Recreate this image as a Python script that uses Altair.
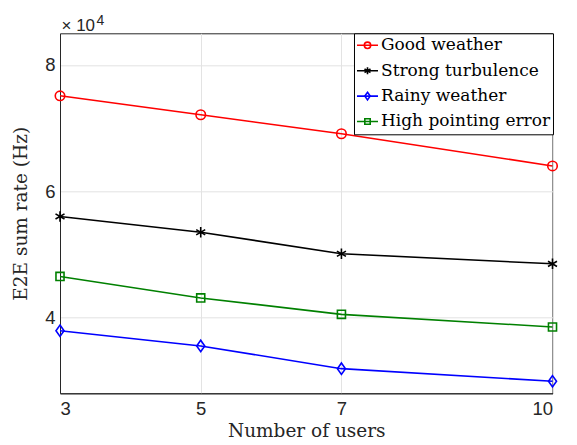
import altair as alt
import pandas as pd

users = [3, 5, 7, 10]
series_names = ["Good weather", "Strong turbulence", "Rainy weather", "High pointing error"]
good_weather = [75100, 72100, 69100, 64000]
strong_turbulence = [56000, 53500, 50100, 48500]
rainy_weather = [37900, 35500, 31900, 29900]
high_pointing = [46500, 43100, 40500, 38500]
x_ticks = [3, 5, 7, 10]
y_ticks = [40000, 60000, 80000]
multiplier = ["× 10"]
exponent = ["4"]

colors = ["#FF0000", "#000000", "#0000FF", "#008000"]
asterisk = "M0,-1.1L0,1.1M-0.95,-0.55L0.95,0.55M-0.95,0.55L0.95,-0.55"
diamond = "M0,-1.2L0.85,0L0,1.2L-0.85,0Z"
square = "M-0.85,-0.85H0.85V0.85H-0.85Z"
shapes = ["circle", asterisk, diamond, square]

# marker keys differ from line keys only so the two legends stay separate
marker_names = [n + " " for n in series_names]

rows = []
for name, mname, vals in zip(series_names, marker_names,
                             [good_weather, strong_turbulence, rainy_weather, high_pointing]):
    for u, v in zip(users, vals):
        rows.append({"users": u, "rate": v, "series": name, "marker": mname})
df = pd.DataFrame(rows)

W, H = 492.5, 360
LX, LY = 294, 0
SERIF = "DejaVu Serif"

xenc = alt.X("users:Q", scale=alt.Scale(domain=[3, 10], nice=False, zero=False),
             axis=alt.Axis(values=x_ticks, title="Number of users", format="d",
                           labelPadding=6, titlePadding=4))
yenc = alt.Y("rate:Q", scale=alt.Scale(domain=[28000, 85000], nice=False, zero=False),
             axis=alt.Axis(values=y_ticks, title="E2E sum rate (Hz)",
                           labelExpr="format(datum.value / 10000, 'd')",
                           labelPadding=5, titlePadding=14))

line_legend = alt.Legend(orient="none", legendX=LX, legendY=LY, title=None,
                         symbolType="stroke", symbolSize=441, symbolStrokeWidth=1.6,
                         labelFont=SERIF, labelFontSize=17, labelColor="#000000",
                         labelOffset=2, padding=2, rowPadding=5.4, clipHeight=20,
                         strokeColor="#000000", fillColor="#FFFFFF", zindex=1, labelLimit=400)

shape_legend = alt.Legend(orient="none", legendX=LX, legendY=LY, title=None,
                          symbolSize=40, symbolStrokeWidth=1.6, symbolFillColor="transparent",
                          symbolOffset=3, labelExpr="''",
                          labelFont=SERIF, labelFontSize=17,
                          labelOffset=2, padding=2, rowPadding=5.4, clipHeight=20, zindex=2)

lines = alt.Chart(df).mark_line(strokeWidth=1.6).encode(
    x=xenc, y=yenc,
    color=alt.Color("series:N", scale=alt.Scale(domain=series_names, range=colors),
                    legend=line_legend, sort=series_names),
    order="users:Q",
)

points = alt.Chart(df).mark_point(filled=False, strokeWidth=1.6, size=90, opacity=1).encode(
    x=xenc, y=yenc,
    shape=alt.Shape("marker:N", scale=alt.Scale(domain=marker_names, range=shapes),
                    legend=shape_legend, sort=marker_names),
    stroke=alt.Stroke("marker:N", scale=alt.Scale(domain=marker_names, range=colors),
                      legend=shape_legend, sort=marker_names),
)

# "×10^4" axis multiplier above the y axis
mult_text = alt.Chart(pd.DataFrame({"m": multiplier})).mark_text(
    font="Liberation Sans", fontSize=17, color="#262626", align="left",
    baseline="alphabetic", clip=False,
).encode(text="m:N", x=alt.value(1.5), y=alt.value(-2.6))

exp_text = alt.Chart(pd.DataFrame({"e": exponent})).mark_text(
    font="Liberation Sans", fontSize=14, color="#262626", align="left",
    baseline="alphabetic", clip=False,
).encode(text="e:N", x=alt.value(36.5), y=alt.value(-8.3))

chart = alt.layer(lines, points, mult_text, exp_text).properties(
    width=W, height=H,
    padding={"left": 60, "top": 33.3, "right": 24.5, "bottom": 52},
    autosize=alt.AutoSizeParams(type="none"),
    background="#FFFFFF",
).configure_view(
    stroke="#262626", strokeWidth=1
).configure_legend(
    labelFont=SERIF, labelFontSize=17
).configure_axis(
    labelFont="Liberation Sans", labelFontSize=18.5, labelColor="#262626",
    titleFont=SERIF, titleFontSize=18.5, titleFontWeight="normal", titleColor="#262626",
    domainColor="#262626", domainWidth=1, tickSize=0,
    grid=True, gridColor="#E3E3E3", gridWidth=1,
)

chart.save("out.html", embed_options={"renderer": "svg", "actions": False})
